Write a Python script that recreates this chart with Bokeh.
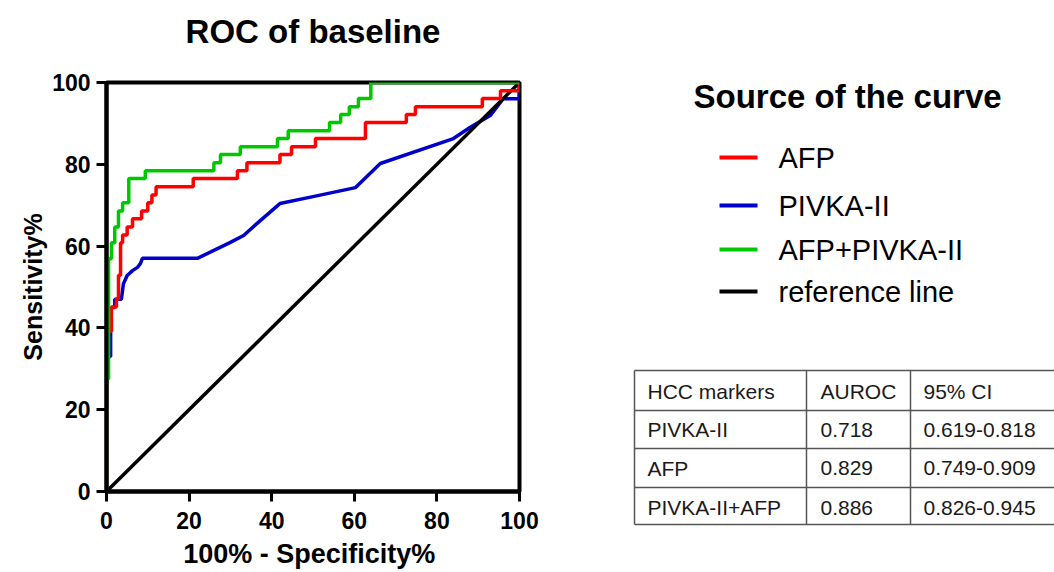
from bokeh.plotting import figure
from bokeh.layouts import row, column
from bokeh.models import Range1d, FixedTicker
from bokeh.core.properties import value
from bokeh.embed import file_html
from bokeh.resources import INLINE

# ---------------- data ----------------
chart_title = "ROC of baseline"
tick_values = [0, 20, 40, 60, 80, 100]

afp_fpr = [0, 0, 1.2, 1.2, 2.4, 2.4, 2.9, 2.9, 3.4, 3.4, 3.9, 3.9, 5.0, 5.0, 6.3, 6.3,
           8.5, 8.5, 10.0, 10.0, 11.0, 11.0, 12.0, 12.0, 21.0, 21.0, 31.7, 31.7, 34.0, 34.0,
           42.0, 42.0, 44.8, 44.8, 50.6, 50.6, 62.7, 62.7, 72.6, 72.6, 74.8, 74.8, 91.0, 91.0,
           95.4, 95.4, 100, 100]
afp_sens = [0, 39.2, 39.2, 45.1, 45.1, 47.1, 47.1, 52.9, 52.9, 60.8, 60.8, 62.7, 62.7, 64.7,
            64.7, 66.7, 66.7, 68.6, 68.6, 70.6, 70.6, 72.5, 72.5, 74.5, 74.5, 76.5, 76.5, 78.4,
            78.4, 80.4, 80.4, 82.4, 82.4, 84.3, 84.3, 86.3, 86.3, 90.2, 90.2, 92.2, 92.2, 94.1,
            94.1, 96.1, 96.1, 98.0, 98.0, 100]

pivka_fpr = [0, 0, 1.0, 1.0, 1.2, 2.0, 2.0, 3.6, 4.1, 5.0, 6.3, 7.5, 8.2, 8.7, 22.0, 30.0,
             33.2, 37.3, 42.0, 50.0, 60.3, 66.3, 84.0, 88.0, 93.0, 96.0, 100, 100]
pivka_sens = [0, 33.0, 33.0, 43.0, 45.0, 45.0, 47.0, 47.0, 50.8, 52.8, 54.0, 54.8, 55.7, 57.0,
              57.0, 60.9, 62.6, 66.3, 70.4, 72.1, 74.3, 80.2, 86.3, 89.0, 92.0, 96.0, 96.0, 100]

combo_fpr = [0, 0, 0.5, 0.5, 1.2, 1.2, 2.0, 2.0, 2.9, 2.9, 3.9, 3.9, 5.4, 5.4, 9.4, 9.4,
             26.0, 26.0, 27.6, 27.6, 32.4, 32.4, 41.4, 41.4, 44.0, 44.0, 54.0, 54.0, 56.7, 56.7,
             58.8, 58.8, 61.0, 61.0, 64.0, 64.0, 100]
combo_sens = [0, 27.5, 27.5, 56.9, 56.9, 60.8, 60.8, 64.7, 64.7, 68.6, 68.6, 70.6, 70.6, 76.5,
              76.5, 78.4, 78.4, 80.4, 80.4, 82.4, 82.4, 84.3, 84.3, 86.3, 86.3, 88.2, 88.2, 90.2,
              90.2, 92.2, 92.2, 94.1, 94.1, 96.1, 96.1, 100, 100]

ref_fpr = [0, 100]
ref_sens = [0, 100]

series_names = ["AFP", "PIVKA-II", "AFP+PIVKA-II", "reference line"]

table_header = ["HCC markers", "AUROC", "95% CI"]
table_markers = ["PIVKA-II", "AFP", "PIVKA-II+AFP"]
table_auroc = ["0.718", "0.829", "0.886"]
table_ci = ["0.619-0.818", "0.749-0.909", "0.826-0.945"]

# ---------------- styles / layout ----------------
colors = {"AFP": "#FF0000", "PIVKA-II": "#0000C8", "AFP+PIVKA-II": "#00C800",
          "reference line": "#000000"}
FONT = "Liberation Sans"
CURVE_W = 3.5
W_LEFT, W_RIGHT, H = 600, 454, 572
H_TITLE = 60


def blank(width, height, x0, y0):
    f = figure(width=width, height=height, x_range=Range1d(x0, x0 + width),
               y_range=Range1d(y0 + height, y0), output_backend="svg",
               toolbar_location=None, min_border=0,
               x_axis_location=None, y_axis_location=None)
    f.frame_align = False
    f.outline_line_color = None
    f.grid.visible = False
    f.background_fill_color = "white"
    f.border_fill_color = "white"
    return f


# ---------------- title strip ----------------
t = blank(W_LEFT, H_TITLE, 0, 0)
t.text(x=[312.5], y=[31], text=[chart_title], text_font=value(FONT),
       text_font_size=value("33px"), text_font_style="bold", text_color="black",
       text_baseline="middle", text_align="center")

# ---------------- ROC figure ----------------
p = figure(width=W_LEFT, height=H - H_TITLE, x_range=Range1d(0, 100),
           y_range=Range1d(0, 100), output_backend="svg", toolbar_location=None,
           min_border_left=106, min_border_right=W_LEFT - 519,
           min_border_top=82 - H_TITLE, min_border_bottom=H - 491)
p.frame_align = False

p.xgrid.visible = False
p.ygrid.visible = False
p.outline_line_color = "black"
p.outline_line_width = 4
p.outline_line_alpha = 1.0
p.background_fill_color = "white"
p.border_fill_color = "white"

for ax in (p.xaxis[0], p.yaxis[0]):
    ax.ticker = FixedTicker(ticks=tick_values)
    ax.axis_line_width = 4
    ax.axis_line_color = "black"
    ax.major_tick_line_width = 3
    ax.major_tick_line_color = "black"
    ax.major_tick_out = 10
    ax.major_tick_in = 0
    ax.minor_tick_line_color = None
    ax.major_label_text_font = FONT
    ax.major_label_text_font_size = "23px"
    ax.major_label_text_font_style = "bold"
    ax.major_label_text_color = "black"
    ax.axis_label_text_font = FONT
    ax.axis_label_text_font_style = "bold"
    ax.axis_label_text_color = "black"

p.xaxis[0].axis_label = "100%  - Specificity%"
p.yaxis[0].axis_label = "Sensitivity%"
p.xaxis[0].axis_label_text_font_size = "27px"
p.yaxis[0].axis_label_text_font_size = "25px"
p.xaxis[0].major_label_standoff = 10
p.xaxis[0].axis_label_standoff = 7
p.yaxis[0].major_label_standoff = 6
p.yaxis[0].axis_label_standoff = 2

p.line(pivka_fpr, pivka_sens, line_color=colors["PIVKA-II"], line_width=CURVE_W)
p.line(ref_fpr, ref_sens, line_color=colors["reference line"], line_width=CURVE_W)
p.line(afp_fpr, afp_sens, line_color=colors["AFP"], line_width=CURVE_W)
p.line(combo_fpr, combo_sens, line_color=colors["AFP+PIVKA-II"], line_width=CURVE_W)

# ---------------- legend + table panel ----------------
q = blank(W_RIGHT, H, W_LEFT, 0)

q.text(x=[693], y=[96], text=["Source of the curve"], text_font=value(FONT),
       text_font_size=value("33px"), text_font_style="bold", text_color="black",
       text_baseline="middle", text_align="left")

leg_y = [157, 205, 249, 291]
q.segment(x0=[719] * 4, y0=leg_y, x1=[757] * 4, y1=leg_y,
          line_color=[colors[n] for n in series_names], line_width=4)
q.text(x=[778] * 4, y=leg_y, text=series_names, text_font=value(FONT),
       text_font_size=value("29px"), text_color="black",
       text_baseline="middle", text_align="left")

row_edges = [370, 410, 448, 487, 524]
col_edges = [634, 806, 910]
tbl_right = 1080
q.segment(x0=[col_edges[0]] * len(row_edges), y0=row_edges,
          x1=[tbl_right] * len(row_edges), y1=row_edges,
          line_color="#555555", line_width=1.5)
q.segment(x0=col_edges, y0=[row_edges[0]] * len(col_edges),
          x1=col_edges, y1=[row_edges[-1]] * len(col_edges),
          line_color="#555555", line_width=1.5)

text_x = [647, 820, 923]
mid_y = [391, 429, 467.5, 507]
cols = [[table_header[0]] + table_markers,
        [table_header[1]] + table_auroc,
        [table_header[2]] + table_ci]
for cx, col in zip(text_x, cols):
    q.text(x=[cx] * len(col), y=mid_y, text=col, text_font=value(FONT),
           text_font_size=value("21px"), text_color="#1a1a1a",
           text_baseline="middle", text_align="left")

layout = row(column(t, p), q)
open("out.html", "w").write(file_html(layout, INLINE))
